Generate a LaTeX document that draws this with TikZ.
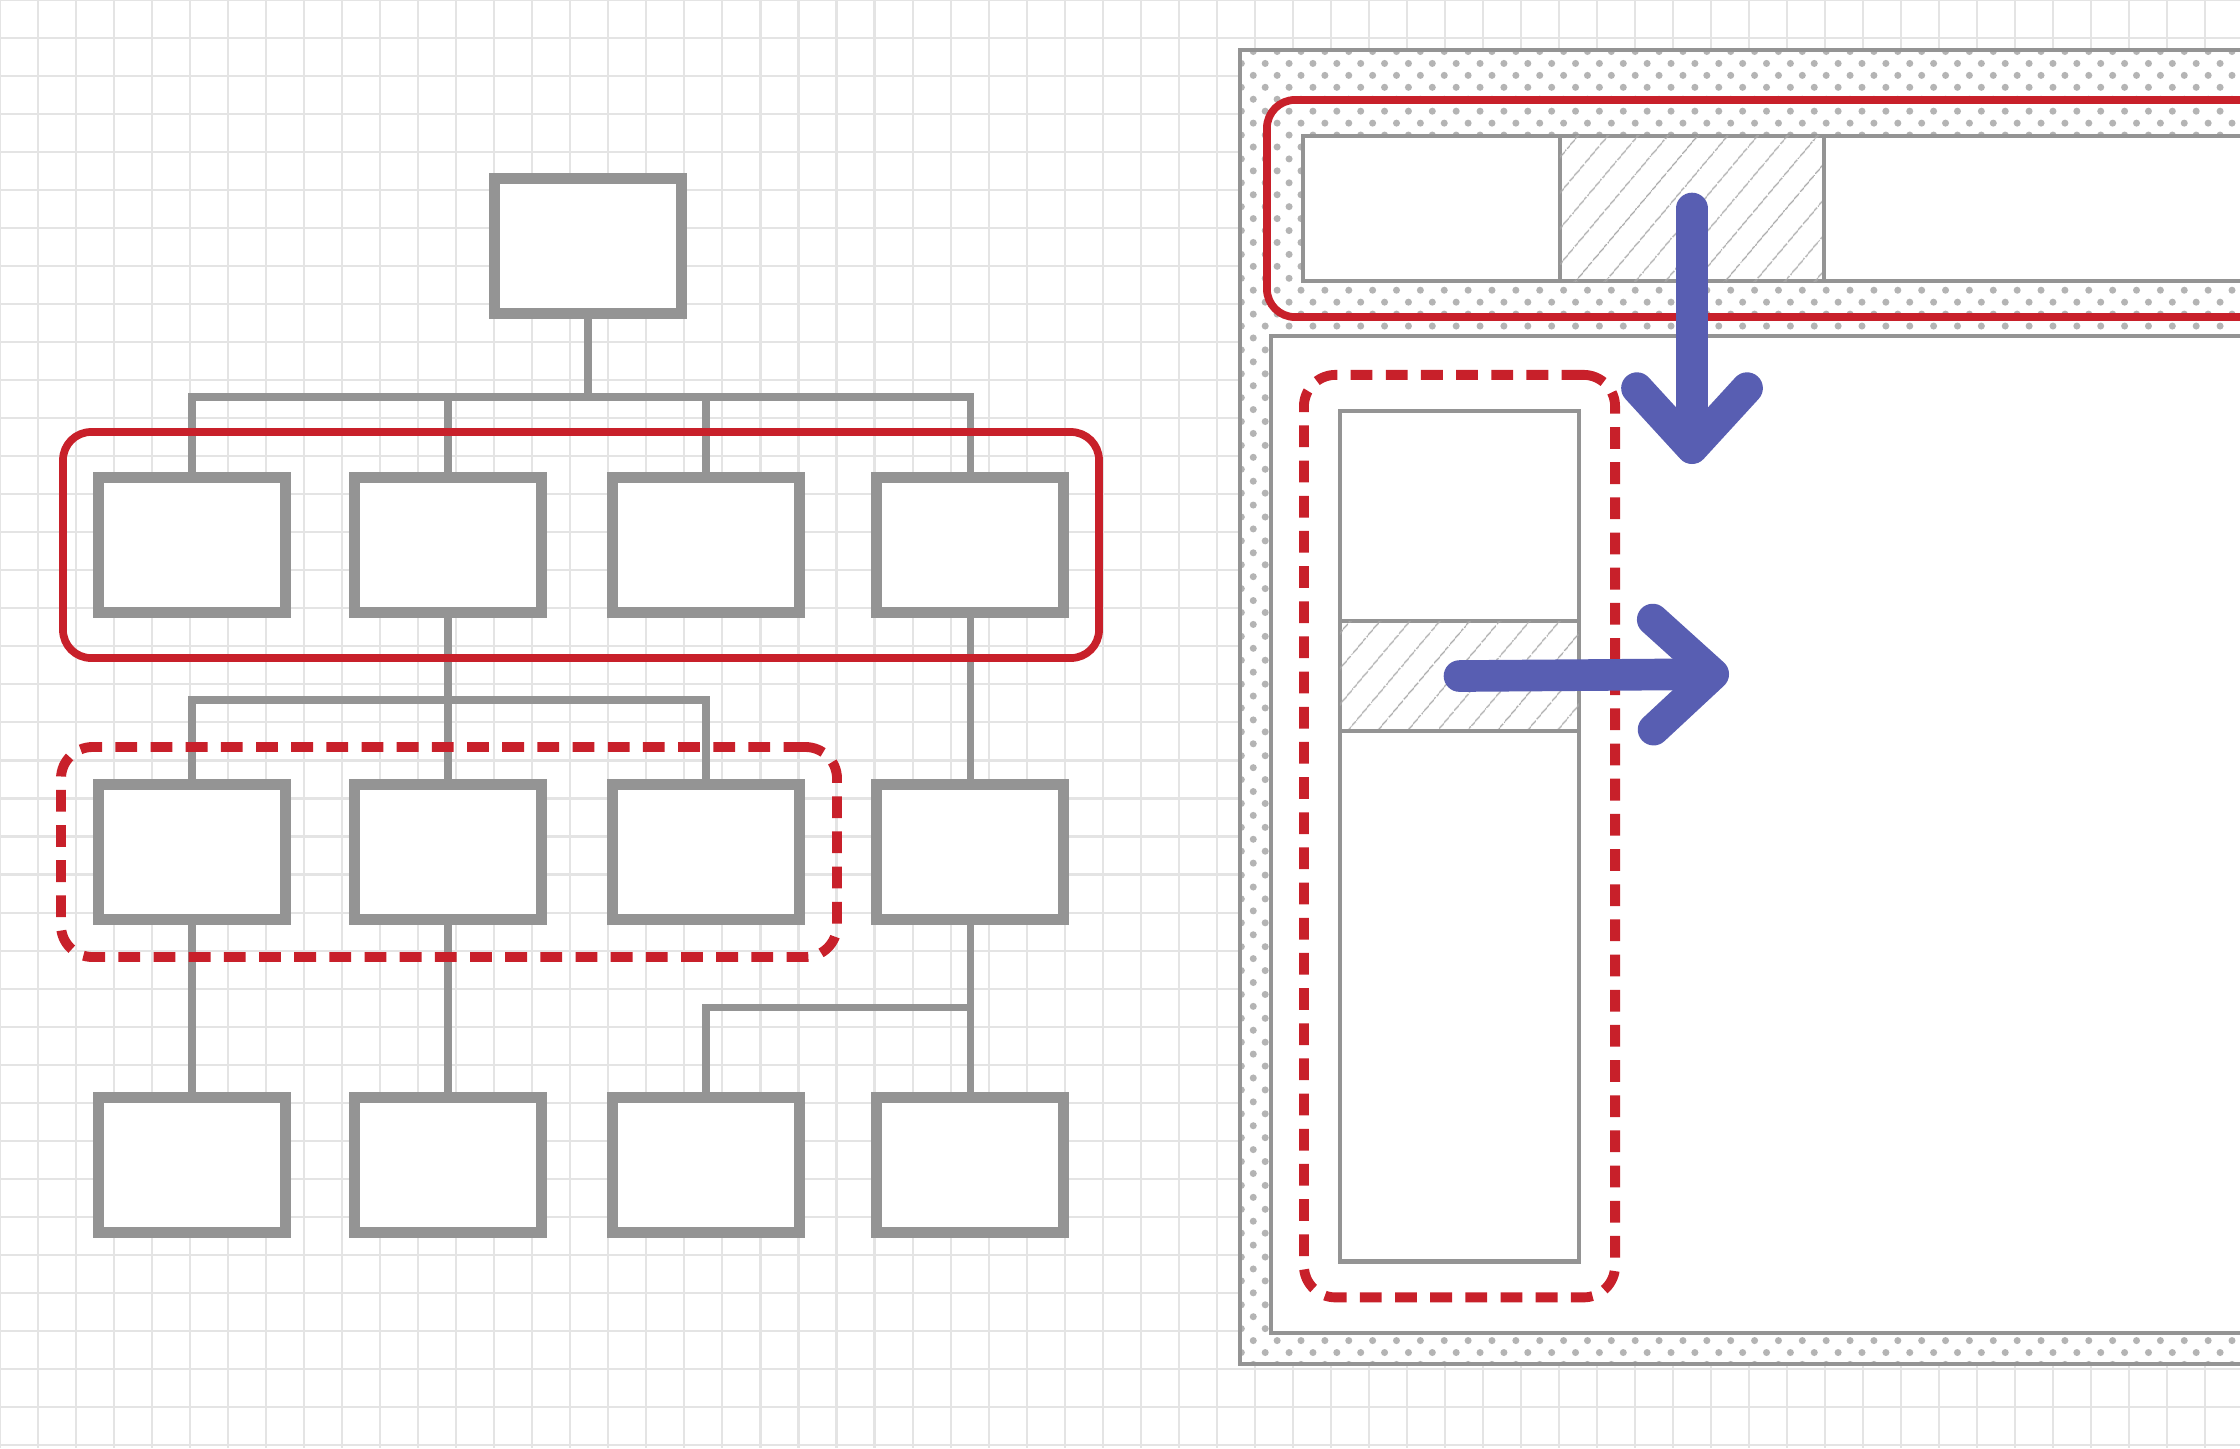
\documentclass[tikz,border=0pt]{standalone}
\usetikzlibrary{arrows.meta, fit, patterns.meta}
\definecolor{boxgray}{RGB}{148,148,148}
\definecolor{markred}{RGB}{200,32,42}
\definecolor{flowblue}{RGB}{88,94,178}
\definecolor{paper}{RGB}{228,228,228}

\begin{document}
\begin{tikzpicture}[x=0.01cm, y=-0.01cm,
        box/.style={rectangle, draw=boxgray, line width=3.1pt, fill=white,
                    minimum width=1.87cm, minimum height=1.35cm, inner sep=0pt},
        link/.style={draw=boxgray, line width=2pt, line cap=rect},
        cell/.style={rectangle, draw=boxgray, line width=1.3pt, fill=white, inner sep=0pt, outer sep=0pt},
        hatched/.style={postaction={pattern={Lines[angle=50, distance=6.5pt, line width=0.4pt]}, pattern color=boxgray!80}},
        groupsolid/.style={draw=markred, line width=2.2pt, rounded corners=8pt},
        groupdash/.style={draw=markred, line width=2.8pt, rounded corners=9pt, dash pattern=on 6.2pt off 3.8pt},
        frame/.style={draw=boxgray, line width=1.2pt},
        flow/.style={draw=flowblue, line width=9pt, line cap=round,
                     -{Straight Barb[length=0.6cm, width=1.1cm, line cap=round, line join=round]}}]
    \useasboundingbox (0,0) rectangle (2240,1448);
    \clip (0,0) rectangle (2240,1448);
    \fill[white] (0,0) rectangle (2240,1448);
    \draw[paper, line width=0.6pt, step=0.38cm] (0,0) grid (2240,1448);

    % org chart
    \node[box] (top) at (588,246) {};
    \foreach \n/\x in {21/192, 22/448, 23/706, 24/970} \node[box] (b\n) at (\x,545) {};
    \foreach \n/\x in {31/192, 32/448, 33/706, 34/970} \node[box] (b\n) at (\x,852) {};
    \foreach \n/\x in {41/192, 42/448, 43/706, 44/970} \node[box] (b\n) at (\x,1165) {};

    \coordinate (bus1) at (588,397);
    \draw[link] (top.south) -- (bus1);
    \foreach \n in {21,...,24} \draw[link] (bus1) -| (b\n.north);
    \coordinate (bus2) at (448,700);
    \draw[link] (b22.south) -- (bus2);
    \foreach \n in {31,32,33} \draw[link] (bus2) -| (b\n.north);
    \draw[link] (b24.south) -- (b34.north);
    \draw[link] (b31.south) -- (b41.north);
    \draw[link] (b32.south) -- (b42.north);
    \coordinate (bus3) at (970,1007);
    \draw[link] (b34.south) -- (bus3) -| (b43.north);
    \draw[link] (bus3) -- (b44.north);

    \node[groupsolid, fit=(b21)(b24), inner xsep=0.3cm, inner ysep=0.4cm] (lvl2) {};
    \node[groupdash, fit=(b31)(b33), inner sep=0.32cm] (lvl3) {};

    % page layout
    \draw[frame, preaction={fill=white}, pattern={Dots[radius=1pt, distance=4.8pt, angle=45]}, pattern color=boxgray!70]
        (1240,50) rectangle (2300,1364);
    \draw[frame, fill=white] (1271,336) rectangle (2300,1333);

    \node[cell, minimum width=2.57cm, minimum height=1.45cm] (h1) at (1431.5,208.5) {};
    \node[cell, hatched, minimum width=2.64cm, minimum height=1.45cm] (h2) at (1692,208.5) {};
    \node[cell, minimum width=5cm, minimum height=1.45cm, anchor=west] (h3) at (h2.east) {};
    \node[groupsolid, fit=(h1)(h3), inner sep=0.36cm] (head) {};

    \node[cell, minimum width=2.39cm, minimum height=2.1cm, anchor=south] (s1) at (1459.5,621) {};
    \node[cell, hatched, minimum width=2.39cm, minimum height=1.1cm, anchor=north] (s2) at (1459.5,621) {};
    \node[cell, minimum width=2.39cm, minimum height=5.3cm, anchor=north] (s3) at (s2.south) {};
    \node[groupdash, fit=(s1)(s3), inner sep=0.36cm] (side) {};

    \coordinate (downend) at (1692,464);
    \coordinate (rightend) at (1729,674);
    \draw[flow] (h2.center) -- (downend);
    \draw[flow] (s2.center) -- (rightend);
\end{tikzpicture}
\end{document}
